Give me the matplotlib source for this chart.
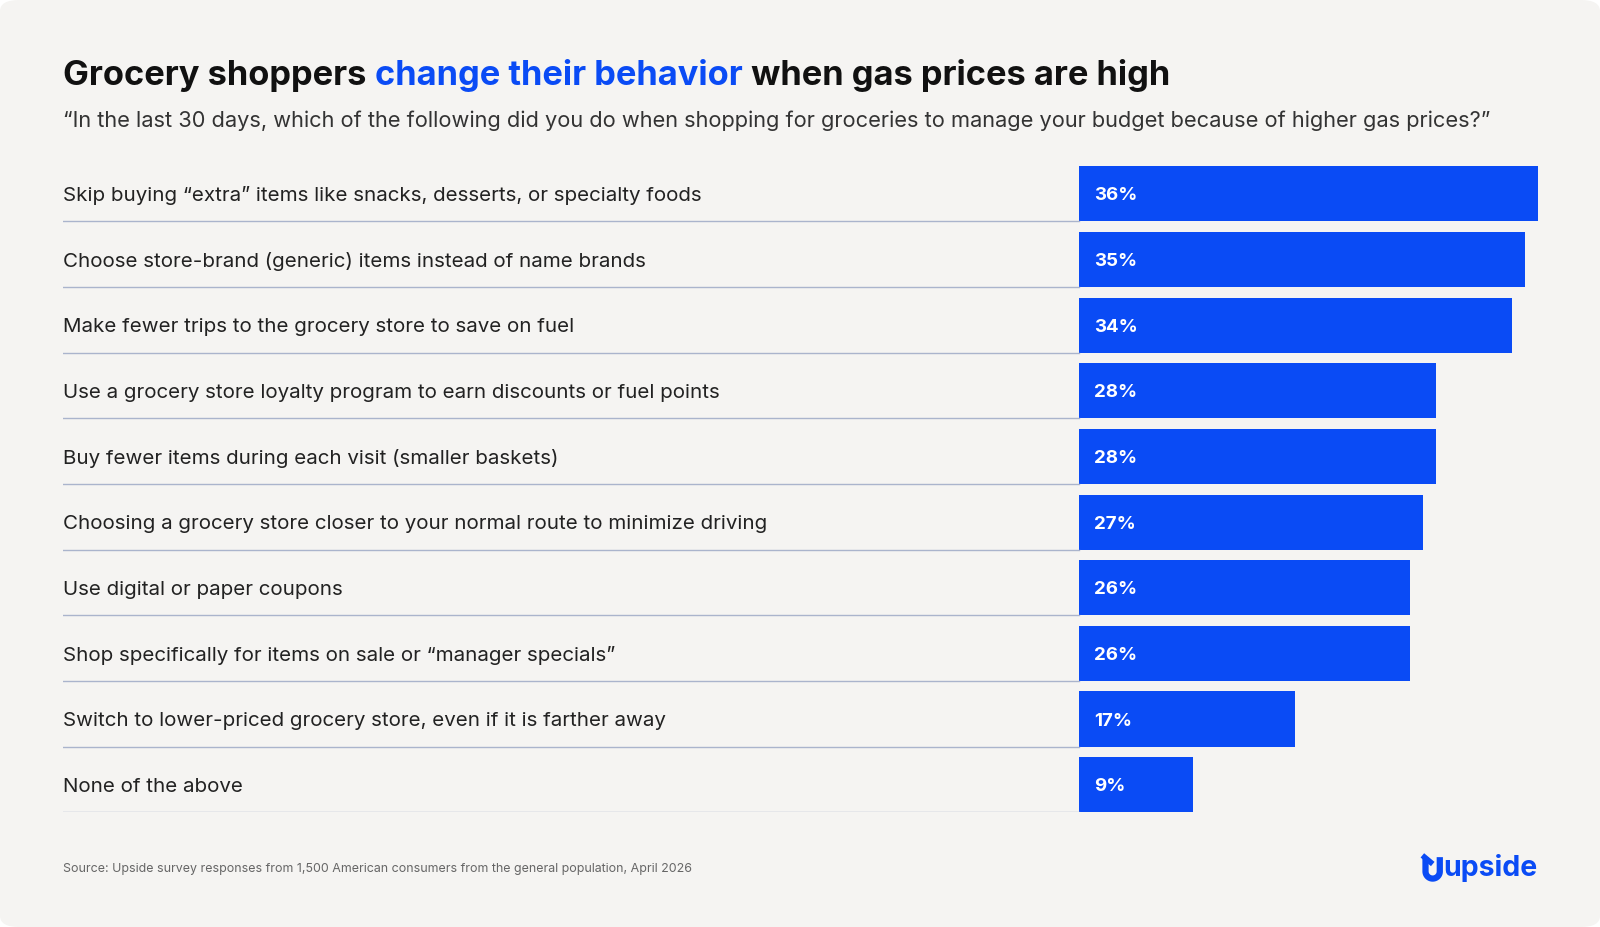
import matplotlib
matplotlib.use("Agg")
import matplotlib.pyplot as plt
import numpy as np
from matplotlib.patches import FancyBboxPatch
from matplotlib.lines import Line2D

categories = [
    "Skip buying \u201cextra\u201d items like snacks, desserts, or specialty foods",
    "Choose store-brand (generic) items instead of name brands",
    "Make fewer trips to the grocery store to save on fuel",
    "Use a grocery store loyalty program to earn discounts or fuel points",
    "Buy fewer items during each visit (smaller baskets)",
    "Choosing a grocery store closer to your normal route to minimize driving",
    "Use digital or paper coupons",
    "Shop specifically for items on sale or \u201cmanager specials\u201d",
    "Switch to lower-priced grocery store, even if it is farther away",
    "None of the above",
]
values = [36, 35, 34, 28, 28, 27, 26, 26, 17, 9]

W, H = 1600, 927
S = 1600 / 1568
BLUE = "#0a4bf5"
fig = plt.figure(figsize=(W/100, H/100), dpi=100)
fig.patch.set_facecolor("white")
bg = FancyBboxPatch((0, 0), 1, 1, boxstyle="round,pad=0,rounding_size=0.012",
                    transform=fig.transFigure, facecolor="#f5f4f2", edgecolor="none",
                    zorder=-10)
fig.patches.append(bg)

def fx(px): return px * S / W
def fy(py): return 1 - py * S / H

FONT = "Inter"
TS = 24.8
t1 = fig.text(fx(62), fy(74), "Grocery shoppers ", fontsize=TS, fontweight="bold",
              color="#111111", family=FONT, va="center")
fig.canvas.draw()
r = fig.canvas.get_renderer()
bb = t1.get_window_extent(r)
t2 = fig.text(bb.x1 / W, fy(74), "change their behavior", fontsize=TS, fontweight="bold",
              color=BLUE, family=FONT, va="center")
bb2 = t2.get_window_extent(r)
fig.text(bb2.x1 / W, fy(74), " when gas prices are high", fontsize=TS, fontweight="bold",
         color="#111111", family=FONT, va="center")
fig.text(fx(62), fy(118), "\u201cIn the last 30 days, which of the following did you do when shopping for groceries to manage your budget because of higher gas prices?\u201d",
         fontsize=15.7, color="#333333", family=FONT, va="center")

ax_l, ax_r, ax_t, ax_b = 62, 1507, 163, 796
ax = fig.add_axes([fx(ax_l), fy(ax_b), fx(ax_r) - fx(ax_l), fy(ax_t) - fy(ax_b)])
ax.set_facecolor("none")
ppu = 450 / 36
xmin = -(1057 - ax_l) / ppu
ax.set_xlim(xmin, 36)
n = len(values)
bh = 54 / ((ax_b - ax_t - 54) / (n - 1))
ax.set_ylim(n - 1 + bh, 0)
for i, (c, v) in enumerate(zip(categories, values)):
    ax.barh(i, v, height=bh, left=0, align="edge", color=BLUE)
    ax.text(1.2, i + bh/2 + 0.03, f"{v}%", color="white", fontsize=13.5, fontweight="bold",
            family=FONT, va="center")
    ax.text(xmin, i + bh/2 + 0.03, c, color="#222222", fontsize=14.8, family=FONT, va="center")
    ax.plot([xmin, 0], [i + bh, i + bh], color="#aab4cc", lw=1)
ax.axis("off")

fig.text(fx(62), fy(852), "Source: Upside survey responses from 1,500 American consumers from the general population, April 2026",
         fontsize=8.95, color="#666666", family=FONT, va="center")
fig.text(fx(1507), fy(851), "upside", fontsize=20.5, fontweight="bold", color=BLUE,
         family=FONT, va="center", ha="right")
# logo mark: U shape
cx, cy, rad = 1404, 854, 7
th = np.linspace(np.pi, 2*np.pi, 30)
ux = [cx - rad, cx - rad] + list(cx + rad*np.cos(th)) + [cx + rad, cx + rad]
uy = [840, cy] + list(cy - rad*np.sin(th)) + [cy, 840]
fig.lines.append(Line2D([fx(x) for x in ux], [fy(y) for y in uy], transform=fig.transFigure,
                        color=BLUE, lw=4.5, solid_capstyle="butt"))
fig.lines.append(Line2D([fx(cx - 8), fx(cx - 2)], [fy(840), fy(845)], transform=fig.transFigure,
                        color=BLUE, lw=4))
fig.savefig("out.png", dpi=100, facecolor=fig.get_facecolor())
